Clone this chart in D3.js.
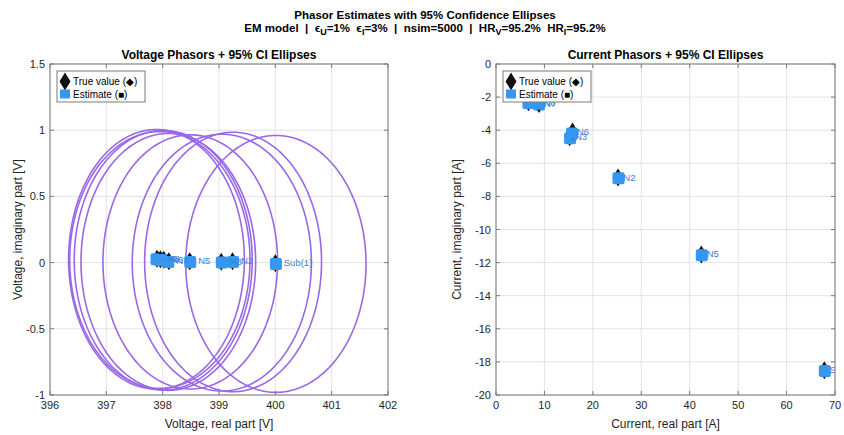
<!DOCTYPE html>
<html>
<head>
<meta charset="utf-8">
<script src="https://cdn.jsdelivr.net/npm/d3@7"></script>
<style>
  html, body { margin: 0; padding: 0; background: #fff; }
  svg { display: block; font-family: "Liberation Sans", Arial, Helvetica, sans-serif; }
</style>
</head>
<body>
<svg id="chart" width="844" height="435"></svg>
<script>
// Node names (plot order)
const nodes = ["Sub(1)", "N2", "N3", "N4", "N5", "N6", "N7", "N8"];

// Voltage phasors [V]: estimates and true values
const vRe     = [400.01, 399.25, 399.05, 397.89, 398.49, 398.01, 398.10, 397.95];
const vIm     = [-0.010,  0.005,  0.000,  0.025,  0.005,  0.018,  0.005,  0.020];
const vReTrue = [400.00, 399.24, 399.04, 397.90, 398.48, 398.02, 398.11, 397.96];
const vImTrue = [-0.004,  0.010,  0.006,  0.030,  0.011,  0.022,  0.010,  0.025];
// 95% CI ellipse semi-axes for the voltages [V]
const vRx = [1.60, 1.57, 1.59, 1.56, 1.55, 1.58, 1.55, 1.60];
const vRy = [0.97, 0.98, 0.97, 0.98, 0.96, 0.98, 0.97, 0.97];

// Current phasors [A]: estimates and true values
const iRe     = [67.9, 25.3, 15.3, 6.7, 42.5, 15.7, 8.9, 8.8];
const iIm     = [-18.55, -6.90, -4.49, -2.35, -11.55, -4.20, -2.45, -2.40];
const iReTrue = [67.8, 25.2, 15.2, 6.7, 42.4, 15.8, 8.9, 8.8];
const iImTrue = [-18.51, -6.86, -4.42, -2.31, -11.51, -4.08, -2.41, -2.36];
// 95% CI ellipse semi-axes for the currents [A]
const iRx = [0.9, 0.45, 0.30, 0.15, 0.70, 0.30, 0.18, 0.18];
const iRy = [0.30, 0.14, 0.10, 0.05, 0.22, 0.10, 0.06, 0.06];

// Axis ticks
const vxTicks = [396, 397, 398, 399, 400, 401, 402];
const vyTicks = [-1, -0.5, 0, 0.5, 1, 1.5];
const ixTicks = [0, 10, 20, 30, 40, 50, 60, 70];
const iyTicks = [-20, -18, -16, -14, -12, -10, -8, -6, -4, -2, 0];

const C = {
  ellipse: "#9a68e6",
  est: "#3597ef",
  label: "#3b82dc",
  axis: "#7a7a7a",
  grid: "#e3e3e3",
  text: "#262626"
};

const svg = d3.select("#chart");

// Figure title (two lines, second one with subscripts)
svg.append("text").attr("x", 425).attr("y", 19).attr("text-anchor", "middle")
  .attr("font-size", 11.5).attr("font-weight", "bold").attr("fill", "#000")
  .text("Phasor Estimates with 95% Confidence Ellipses");

const sub = svg.append("text").attr("x", 425).attr("y", 32).attr("text-anchor", "middle")
  .attr("font-size", 11.5).attr("font-weight", "bold").attr("fill", "#000");
const parts = [
  ["EM model  |  \u03F5", 0], ["U", 1], ["=1%  \u03F5", 0], ["I", 1], ["=3%  |  nsim=5000  |  HR", 0],
  ["V", 1], ["=95.2%  HR", 0], ["I", 1], ["=95.2%", 0]
];
let prevSub = false;
parts.forEach(([t, s]) => {
  const ts = sub.append("tspan").attr("xml:space", "preserve").text(t);
  if (s) { ts.attr("dy", 3).attr("font-size", 9); prevSub = true; }
  else if (prevSub) { ts.attr("dy", -3); prevSub = false; }
});

function ellipsePoints(cx, cy, rx, ry) {
  return d3.range(0, 201).map(k => {
    const a = (k / 200) * 2 * Math.PI;
    return [cx + rx * Math.cos(a), cy + ry * Math.sin(a)];
  });
}

function panel(opt) {
  const { x0, x1, y0, y1, xDom, yDom, xTicks, yTicks, title, xLabel, yLabel,
          re, im, reT, imT, rx, ry, labelDx, yLabelX, legendX } = opt;
  const x = d3.scaleLinear().domain(xDom).range([x0, x1]);
  const y = d3.scaleLinear().domain(yDom).range([y1, y0]);
  const g = svg.append("g");
  const clipId = "clip" + x0;
  svg.append("defs").append("clipPath").attr("id", clipId).append("rect")
    .attr("x", x0).attr("y", y0).attr("width", x1 - x0).attr("height", y1 - y0);

  // grid
  g.append("g").selectAll("line").data(xTicks).join("line")
    .attr("x1", d => x(d)).attr("x2", d => x(d)).attr("y1", y0).attr("y2", y1)
    .attr("stroke", C.grid).attr("stroke-width", 1);
  g.append("g").selectAll("line").data(yTicks).join("line")
    .attr("y1", d => y(d)).attr("y2", d => y(d)).attr("x1", x0).attr("x2", x1)
    .attr("stroke", C.grid).attr("stroke-width", 1);

  // marks: ellipses first, then true value, estimate and label per node
  const plot = g.append("g").attr("clip-path", `url(#${clipId})`);
  const line = d3.line().x(d => x(d[0])).y(d => y(d[1]));
  nodes.forEach((name, i) => {
    plot.append("path").attr("d", line(ellipsePoints(re[i], im[i], rx[i], ry[i])) + "Z")
      .attr("fill", "none").attr("stroke", C.ellipse).attr("stroke-width", 1.6);
  });
  nodes.forEach((name, i) => {
    const tx = x(reT[i]), ty = y(imT[i]);
    plot.append("path").attr("d", `M${tx},${ty - 9}L${tx + 5.5},${ty}L${tx},${ty + 9}L${tx - 5.5},${ty}Z`)
      .attr("fill", "#111");
    const ex = x(re[i]), ey = y(im[i]);
    plot.append("rect").attr("x", ex - 6).attr("y", ey - 6).attr("width", 12).attr("height", 12)
      .attr("rx", 2).attr("fill", C.est);
    plot.append("text").attr("x", x(re[i] + labelDx)).attr("y", y(imT[i]) + 3)
      .attr("font-size", 9.5).attr("fill", C.label).text(name);
  });

  // axes box with inward ticks on all sides
  const axes = g.append("g");
  axes.append("rect").attr("x", x0).attr("y", y0).attr("width", x1 - x0).attr("height", y1 - y0)
    .attr("fill", "none").attr("stroke", C.axis).attr("stroke-width", 1);
  xTicks.forEach(t => {
    axes.append("line").attr("x1", x(t)).attr("x2", x(t)).attr("y1", y1).attr("y2", y1 - 4).attr("stroke", C.axis);
    axes.append("line").attr("x1", x(t)).attr("x2", x(t)).attr("y1", y0).attr("y2", y0 + 4).attr("stroke", C.axis);
    axes.append("text").attr("x", x(t)).attr("y", y1 + 14).attr("text-anchor", "middle")
      .attr("font-size", 11).attr("fill", C.text).text(d3.format("")(t));
  });
  yTicks.forEach(t => {
    axes.append("line").attr("y1", y(t)).attr("y2", y(t)).attr("x1", x0).attr("x2", x0 + 4).attr("stroke", C.axis);
    axes.append("line").attr("y1", y(t)).attr("y2", y(t)).attr("x1", x1).attr("x2", x1 - 4).attr("stroke", C.axis);
    axes.append("text").attr("x", x0 - 5).attr("y", y(t) + 4).attr("text-anchor", "end")
      .attr("font-size", 11).attr("fill", C.text).text(d3.format("")(t).replace("\u2212", "-"));
  });

  // titles and labels
  g.append("text").attr("x", (x0 + x1) / 2).attr("y", 59).attr("text-anchor", "middle")
    .attr("font-size", 12).attr("font-weight", "bold").attr("fill", "#000").text(title);
  g.append("text").attr("x", (x0 + x1) / 2).attr("y", 428).attr("text-anchor", "middle")
    .attr("font-size", 12).attr("fill", C.text).text(xLabel);
  g.append("text").attr("transform", `translate(${yLabelX},${(y0 + y1) / 2}) rotate(-90)`)
    .attr("text-anchor", "middle").attr("font-size", 12).attr("fill", C.text).text(yLabel);

  // legend
  const lg = g.append("g").attr("transform", `translate(${legendX},71)`);
  lg.append("rect").attr("x", 0).attr("y", 0).attr("width", 88).attr("height", 31)
    .attr("fill", "#fff").attr("stroke", C.axis).attr("stroke-width", 1);
  lg.append("path").attr("d", "M8,1.5L13.5,10.5L8,19.5L2.5,10.5Z").attr("fill", "#111");
  lg.append("text").attr("x", 16).attr("y", 14).attr("font-size", 10).attr("fill", "#000")
    .text("True value (\u25C6)");
  lg.append("rect").attr("x", 3).attr("y", 18.5).attr("width", 10).attr("height", 9).attr("fill", C.est);
  lg.append("text").attr("x", 16).attr("y", 27).attr("font-size", 10).attr("fill", "#000")
    .text("Estimate (\u25A0)");
}

panel({
  x0: 50, x1: 388, y0: 64, y1: 395,
  xDom: [396, 402], yDom: [-1, 1.5], xTicks: vxTicks, yTicks: vyTicks,
  title: "Voltage Phasors + 95% CI Ellipses",
  xLabel: "Voltage, real part [V]", yLabel: "Voltage, imaginary part [V]",
  re: vRe, im: vIm, reT: vReTrue, imT: vImTrue, rx: vRx, ry: vRy,
  labelDx: 0.14, yLabelX: 22, legendX: 57
});

panel({
  x0: 496, x1: 835, y0: 64, y1: 395,
  xDom: [0, 70], yDom: [-20, 0], xTicks: ixTicks, yTicks: iyTicks,
  title: "Current Phasors + 95% CI Ellipses",
  xLabel: "Current, real part [A]", yLabel: "Current, imaginary part [A]",
  re: iRe, im: iIm, reT: iReTrue, imT: iImTrue, rx: iRx, ry: iRy,
  labelDx: 1.0, yLabelX: 461, legendX: 503
});
</script>
</body>
</html>
